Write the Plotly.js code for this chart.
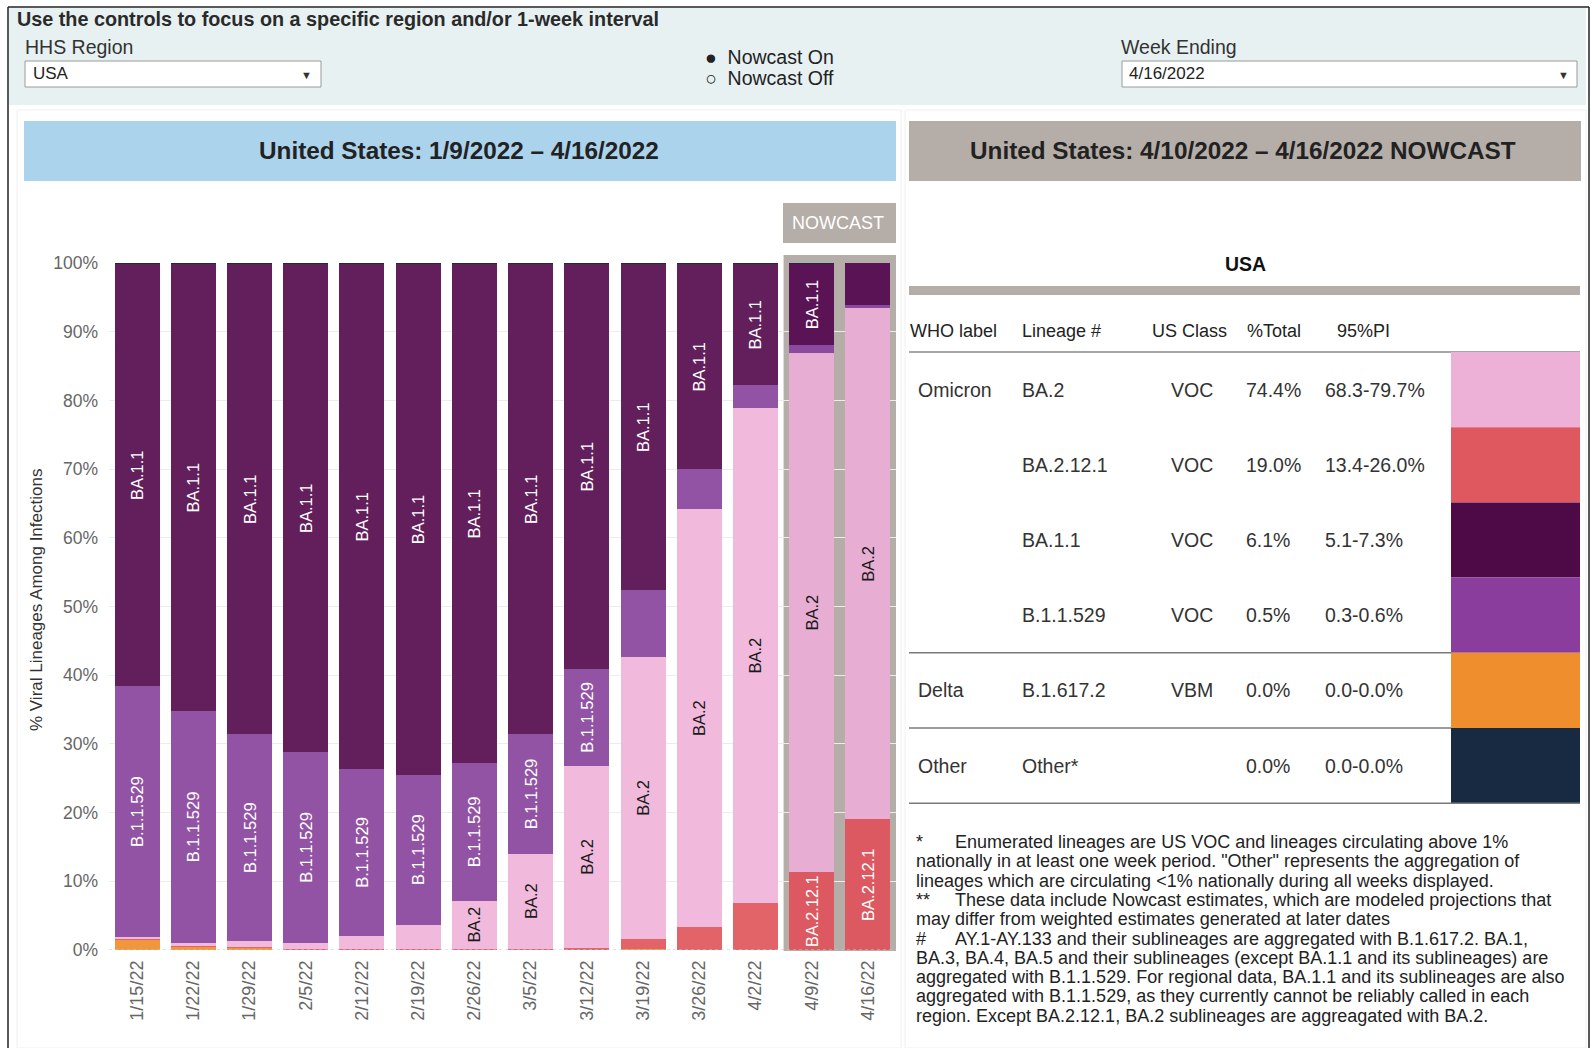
<!DOCTYPE html>
<html>
<head>
<meta charset="utf-8">
<script src="https://cdn.plot.ly/plotly-3.0.1.min.js"></script>
<style>
html,body{margin:0;padding:0;background:#fff;}
#chart{width:1592px;height:1048px;}
</style>
</head>
<body>
<div id="chart"></div>
<script>
// ---------------- DATA ----------------
const weeks = ['1/15/22','1/22/22','1/29/22','2/5/22','2/12/22','2/19/22','2/26/22','3/5/22','3/12/22','3/19/22','3/26/22','4/2/22','4/9/22','4/16/22'];
const delta   = [1.5, 0.5, 0.3, 0.05, 0, 0, 0, 0, 0, 0.1, 0, 0, 0, 0];
const ba2121  = [0.1, 0.1, 0.1, 0.1, 0.1, 0.1, 0.2, 0.2, 0.3, 1.5, 3.3, 6.8, 11.3, 19.0];
const ba2     = [0.3, 0.4, 0.9, 0.9, 2.0, 3.6, 7.0, 13.8, 26.5, 41.1, 60.9, 72.1, 75.6, 74.4];
const b11529  = [36.5, 33.8, 30.1, 27.75, 24.2, 21.8, 20.0, 17.4, 14.1, 9.7, 5.8, 3.3, 1.2, 0.5];
const ba11    = [61.4, 65.0, 68.4, 71.0, 73.5, 74.3, 72.6, 68.4, 58.9, 47.4, 29.8, 17.6, 11.7, 6.1];
const other   = [0.2, 0.2, 0.2, 0.2, 0.2, 0.2, 0.2, 0.2, 0.2, 0.2, 0.2, 0.2, 0.2, 0];

const ba11Labels   = ['BA.1.1','BA.1.1','BA.1.1','BA.1.1','BA.1.1','BA.1.1','BA.1.1','BA.1.1','BA.1.1','BA.1.1','BA.1.1','BA.1.1','BA.1.1',''];
const b11529Labels = ['B.1.1.529','B.1.1.529','B.1.1.529','B.1.1.529','B.1.1.529','B.1.1.529','B.1.1.529','B.1.1.529','B.1.1.529','','','','',''];
const ba2Labels    = ['','','','','','','BA.2','BA.2','BA.2','BA.2','BA.2','BA.2','BA.2','BA.2'];
const ba2121Labels = ['','','','','','','','','','','','','BA.2.12.1','BA.2.12.1'];
const nowcastFlags = [0,0,0,0,0,0,0,0,0,0,0,0,1,1];

// Table (nowcast week)
const tblWho     = ['Omicron','','','','Delta','Other'];
const tblLineage = ['BA.2','BA.2.12.1','BA.1.1','B.1.1.529','B.1.617.2','Other*'];
const tblClass   = ['VOC','VOC','VOC','VOC','VBM',''];
const tblTotal   = ['74.4%','19.0%','6.1%','0.5%','0.0%','0.0%'];
const tblPI      = ['68.3-79.7%','13.4-26.0%','5.1-7.3%','0.3-0.6%','0.0-0.0%','0.0-0.0%'];
const tblColors  = ['#edb0d6','#e0585f','#4e0a46','#8a3d9c','#ee8e2c','#172a42'];
const tblHeaders = ['WHO label','Lineage #','US Class','%Total','95%PI'];

const footLines = [
  ['*','Enumerated lineages are US VOC and lineages circulating above 1%'],
  ['','nationally in at least one week period. "Other" represents the aggregation of'],
  ['','lineages which are circulating <1% nationally during all weeks displayed.'],
  ['**','These data include Nowcast estimates, which are modeled projections that'],
  ['','may differ from weighted estimates generated at later dates'],
  ['#','AY.1-AY.133 and their sublineages are aggregated with B.1.617.2. BA.1,'],
  ['','BA.3, BA.4, BA.5 and their sublineages (except BA.1.1 and its sublineages) are'],
  ['','aggregated with B.1.1.529. For regional data, BA.1.1 and its sublineages are also'],
  ['','aggregated with B.1.1.529, as they currently cannot be reliably called in each'],
  ['','region. Except BA.2.12.1, BA.2 sublineages are aggreagated with BA.2.']
];

// ---------------- LAYOUT HELPERS ----------------
const W = 1592, H = 1048;
const FONT = 'Liberation Sans, Arial, Helvetica, sans-serif';
const X = p => p / W;
const Y = p => 1 - p / H;

function colorsFor(base, now) { return nowcastFlags.map(f => f ? now : base); }

function barTrace(name, vals, labels, base, now, txtColor) {
  return {
    type: 'bar', name: name, x: weeks, y: vals,
    text: labels, textposition: 'inside', insidetextanchor: 'middle',
    textangle: -90,
    insidetextfont: {family: FONT, size: 16.5, color: txtColor},
    marker: {color: colorsFor(base, now), line: {width: 0}},
    hoverinfo: 'skip', showlegend: false
  };
}

const traces = [
  barTrace('Delta', delta, weeks.map(() => ''), '#f0963d', '#e58d3a', '#fff'),
  barTrace('BA.2.12.1', ba2121, ba2121Labels, '#e26469', '#dc5961', '#fff'),
  barTrace('BA.2', ba2, ba2Labels, '#f1b9dc', '#e8add3', '#1a1a1a'),
  barTrace('B.1.1.529', b11529, b11529Labels, '#9353a4', '#8c4a9e', '#fff'),
  barTrace('BA.1.1', ba11, ba11Labels, '#621f5c', '#5a1354', '#fff'),
  barTrace('Other', other, weeks.map(() => ''), '#1c2a45', '#1c2a45', '#fff')
];

const shapes = [];
const annotations = [];

function rect(x0, y0, x1, y1, fill, line, lw, layer) {
  shapes.push({type:'rect', xref:'paper', yref:'paper', x0:X(x0), x1:X(x1), y0:Y(y1), y1:Y(y0),
    fillcolor: fill, line: {color: line || 'rgba(0,0,0,0)', width: lw || 0}, layer: layer || 'below'});
}
function hline(x0, x1, y, color, w) {
  shapes.push({type:'line', xref:'paper', yref:'paper', x0:X(x0), x1:X(x1), y0:Y(y), y1:Y(y),
    line:{color: color, width: w}, layer:'above'});
}
function vline(x, y0, y1, color, w) {
  shapes.push({type:'line', xref:'paper', yref:'paper', x0:X(x), x1:X(x), y0:Y(y0), y1:Y(y1),
    line:{color: color, width: w}, layer:'above'});
}
function txt(text, x, y, size, color, anchor, bold, extra) {
  const a = {text: bold ? '<b>' + text + '</b>' : text, x: X(x), y: Y(y), xref:'paper', yref:'paper',
    showarrow:false, xanchor: anchor || 'left', yanchor:'middle',
    font:{family: FONT, size: size, color: color}};
  annotations.push(Object.assign(a, extra || {}));
}

// control panel
rect(9, 8, 1586, 105, '#e7f1f2');
txt('Use the controls to focus on a specific region and/or 1-week interval', 15, 19, 19.8, '#2a2a2a', 'left', true);
txt('HHS Region', 23, 47, 19.5, '#333');
rect(25, 61, 321, 87, '#ffffff', '#9a9a9a', 1, 'above');
txt('USA', 31, 74, 17, '#222');
txt('▼', 306, 75, 11, '#333', 'center');
txt('●  Nowcast On', 703, 57, 19.5, '#222');
txt('○  Nowcast Off', 703, 78, 19.5, '#222');
txt('Week Ending', 1119, 47, 19.5, '#333');
rect(1122, 61, 1577, 87, '#ffffff', '#9a9a9a', 1, 'above');
txt('4/16/2022', 1127, 74, 17, '#222');
txt('▼', 1563, 75, 11, '#333', 'center');

// outer frame
vline(8, 7, 1048, '#222', 1.5);
vline(1589, 7, 1048, '#222', 1.5);
hline(8, 1589, 7, '#222', 1.5);

// panel frames
rect(17, 110, 901, 1048, '#ffffff', '#f0f0f0', 1);
rect(905, 110, 1586, 1048, '#ffffff', '#f0f0f0', 1);

// headers
rect(24, 121, 896, 181, '#acd3ec');
txt('United States: 1/9/2022 – 4/16/2022', 459, 151, 24.3, '#222', 'center', true);
rect(909, 121, 1581, 181, '#b5ada7');
txt('United States: 4/10/2022 – 4/16/2022 NOWCAST', 1243, 151, 24.3, '#222', 'center', true);

// NOWCAST tag
rect(783, 203, 896, 243, '#b5ada7');
txt('NOWCAST', 838, 223, 18, '#ffffff', 'center');

// nowcast background behind last two bars
shapes.push({type:'rect', xref:'x', yref:'paper',
  x0: weeks.length - 2.5, x1: weeks.length - 0.5,
  y0: Y(951), y1: Y(255), fillcolor:'#b5ada7', line:{width:0}, layer:'below'});

// dotted baseline
shapes.push({type:'line', xref:'paper', yref:'y', x0: X(109), x1: X(896), y0: 0, y1: 0,
  line:{color:'#c8c8c8', width:1, dash:'dot'}, layer:'above'});

// y-axis title
txt('% Viral Lineages Among Infections', 36, 600, 17, '#333', 'center', false, {textangle: -90});

// ---------- table ----------
txt('USA', 1245, 264, 19.5, '#111', 'center', true);
rect(909, 286, 1580, 295, '#b5ada7');
const colX = [908, 1020, 1150, 1245, 1335];
tblHeaders.forEach((h, i) => txt(h, colX[i], 331, 18, '#222'));
hline(909, 1580, 352, '#8a8a8a', 1.5);
const rowTop = 352, rowH = 75.2;
tblLineage.forEach((lin, i) => {
  const yc = rowTop + rowH * (i + 0.5);
  if (tblWho[i]) txt(tblWho[i], 916, yc, 19.5, '#333');
  txt(lin, 1020, yc, 19.5, '#333');
  if (tblClass[i]) txt(tblClass[i], 1215, yc, 19.5, '#333', 'right');
  txt(tblTotal[i], 1244, yc, 19.5, '#333');
  txt(tblPI[i], 1323, yc, 19.5, '#333');
  rect(1451, rowTop + rowH * i, 1580, rowTop + rowH * (i + 1), tblColors[i], null, 0, 'above');
});
[4, 5, 6].forEach(k => hline(909, 1451, rowTop + rowH * k, '#7a7a7a', 1.5));
hline(1451, 1580, rowTop + rowH * 6, '#7a7a7a', 1.5);

// ---------- footnotes ----------
footLines.forEach((ln, i) => {
  const yc = 842 + 19.3 * i;
  if (ln[0]) {
    txt(ln[0], 914, yc, 18, '#222');
    txt(ln[1], 953, yc, 18, '#222');
  } else {
    txt(ln[1], 914, yc, 18, '#222');
  }
});

const layout = {
  width: W, height: H,
  margin: {l:0, r:0, t:0, b:0},
  paper_bgcolor: '#ffffff', plot_bgcolor: 'rgba(0,0,0,0)',
  barmode: 'stack', bargap: 0.2,
  font: {family: FONT},
  xaxis: {
    domain: [X(109), X(896)], range: [-0.5, weeks.length - 0.5],
    type: 'category', tickangle: -90, showgrid: false, zeroline: false, showline: false,
    tickfont: {family: FONT, size: 18, color: '#666'}, ticks: '', ticklabelstandoff: 6,
    fixedrange: true
  },
  yaxis: {
    domain: [Y(950), Y(263)], range: [0, 100], dtick: 10, ticksuffix: '%',
    showgrid: true, gridcolor: '#ececec', zeroline: false, showline: false,
    tickfont: {family: FONT, size: 17.5, color: '#666'}, ticks: '', ticklabelstandoff: 10,
    fixedrange: true
  },
  shapes: shapes,
  annotations: annotations,
  showlegend: false
};

Plotly.newPlot('chart', traces, layout, {displayModeBar: false, staticPlot: true});
</script>
</body>
</html>
